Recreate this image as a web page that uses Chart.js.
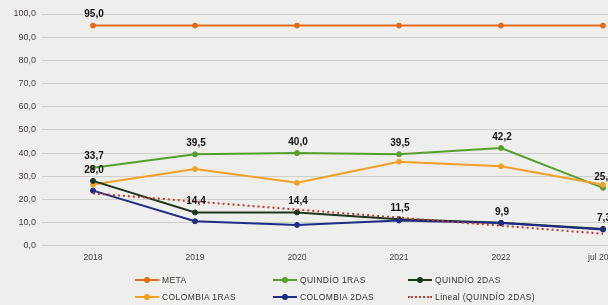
<!DOCTYPE html>
<html>
<head>
<meta charset="utf-8">
<script src="https://cdn.jsdelivr.net/npm/chart.js@4.4.0/dist/chart.umd.min.js"></script>
<style>
  html, body { margin: 0; padding: 0; background: #eeeeec; overflow: hidden; width: 608px; height: 305px; }
  #wrap { position: absolute; left: 0; top: 0; width: 660px; height: 278px; }
  #leyenda { position: absolute; left: 0; top: 270px; width: 608px; height: 35px; font-family: "Liberation Sans", Arial, sans-serif; font-size: 8.5px; letter-spacing: 0.4px; color: #333; }
  .item { position: absolute; display: flex; align-items: center; white-space: nowrap; }
  .marca { position: relative; width: 24px; height: 8px; margin-right: 3px; }
  .marca .linea { position: absolute; left: 0; right: 0; top: 3px; height: 2px; }
  .marca .punto { position: absolute; left: 9px; top: 1px; width: 6px; height: 6px; border-radius: 50%; }
</style>
</head>
<body>
<div id="wrap"><canvas id="myChart" width="660" height="278"></canvas></div>
<div id="leyenda"></div>
<script>
// datos
const categorias = ["2018", "2019", "2020", "2021", "2022", "jul 2023"];
const meta = [95.0, 95.0, 95.0, 95.0, 95.0, 95.0];
const quindio1 = [33.7, 39.5, 40.0, 39.5, 42.2, 25.0];
const quindio2 = [28.0, 14.4, 14.4, 11.5, 9.9, 7.3];
const colombia1 = [26.4, 33.1, 27.2, 36.3, 34.3, 26.3];
const colombia2 = [23.8, 10.6, 9.0, 10.9, 9.8, 7.0];
const lineal = [22.6, null, null, null, null, 5.2];
const ticksY = [0, 10, 20, 30, 40, 50, 60, 70, 80, 90, 100];

// que puntos llevan etiqueta
const etiquetasMeta = [true, false, false, false, false, false];
const etiquetasQ1 = [true, true, true, true, true, true];
const etiquetasQ2 = [true, true, true, true, true, true];

const fmt = (v) => v.toFixed(1).replace(".", ",");

const etiquetasPlugin = {
  id: "etiquetas",
  afterDatasetsDraw(chart) {
    const ctx = chart.ctx;
    ctx.save();
    ctx.font = "bold 10px 'Liberation Sans', Arial, sans-serif";
    ctx.fillStyle = "#111";
    ctx.textAlign = "center";
    ctx.textBaseline = "bottom";
    chart.data.datasets.forEach((ds, i) => {
      if (!ds.etiquetas) return;
      const meta = chart.getDatasetMeta(i);
      meta.data.forEach((p, j) => {
        if (ds.etiquetas[j] && ds.data[j] != null) {
          ctx.fillText(fmt(ds.data[j]), p.x + 1, p.y - 6);
        }
      });
    });
    ctx.restore();
  }
};

const datasets = [
  { label: "META", data: meta, borderColor: "#e36c1c", backgroundColor: "#e36c1c", etiquetas: etiquetasMeta, order: 6 },
  { label: "QUINDÍO 1RAS", data: quindio1, borderColor: "#55a02c", backgroundColor: "#55a02c", etiquetas: etiquetasQ1, order: 5 },
  { label: "QUINDÍO 2DAS", data: quindio2, borderColor: "#1c361c", backgroundColor: "#1c361c", etiquetas: etiquetasQ2, order: 3 },
  { label: "COLOMBIA 1RAS", data: colombia1, borderColor: "#f2a126", backgroundColor: "#f2a126", order: 4 },
  { label: "COLOMBIA 2DAS", data: colombia2, borderColor: "#1f2c86", backgroundColor: "#1f2c86", order: 2 },
  { label: "Lineal (QUINDÍO 2DAS)", data: lineal, borderColor: "#c0392b", borderDash: [2, 3], pointRadius: 0, spanGaps: true, order: 1, dotted: true }
];
datasets.forEach((d) => {
  d.borderWidth = 2;
  if (d.pointRadius === undefined) d.pointRadius = 2.5;
  d.pointBorderWidth = 1;
  d.tension = 0;
});

const myChart = document.getElementById("myChart");
const chart = new Chart(myChart, {
  type: "line",
  data: { labels: categorias, datasets },
  options: {
    responsive: false,
    animation: false,
    layout: { padding: { top: 14, right: 6, left: 0, bottom: 8 } },
    plugins: { legend: { display: false }, tooltip: { enabled: false } },
    scales: {
      x: {
        offset: true,
        grid: { display: false, drawTicks: false },
        border: { display: false },
        ticks: { color: "#444", padding: 7, font: { family: "'Liberation Sans', Arial, sans-serif", size: 8.5 }, maxRotation: 0, autoSkip: false }
      },
      y: {
        min: 0, max: 100,
        afterBuildTicks: (s) => { s.ticks = ticksY.map((v) => ({ value: v })); },
        afterFit: (s) => { s.width = 42; },
        grid: { color: "rgba(0,0,0,0.13)", drawTicks: false },
        border: { display: false },
        ticks: { color: "#4a4040", padding: 6, font: { family: "'Liberation Sans', Arial, sans-serif", size: 9 }, callback: (v) => fmt(v) }
      }
    }
  },
  plugins: [etiquetasPlugin]
});

// leyenda en html, en rejilla de 3 columnas
const leyenda = document.getElementById("leyenda");
const posiciones = [[135, 9], [273, 9], [408, 9], [135, 26], [273, 26], [408, 26]];
chart.data.datasets.forEach((ds, k) => {
  const item = document.createElement("div");
  item.className = "item";
  item.style.left = posiciones[k][0] + "px";
  item.style.top = (posiciones[k][1] - 4) + "px";
  const lineaCss = ds.dotted
    ? `border-top: 2px dotted ${ds.borderColor}; height: 0;`
    : `background: ${ds.borderColor};`;
  const punto = ds.dotted ? "" : `<div class="punto" style="background:${ds.borderColor}"></div>`;
  item.innerHTML = `<div class="marca"><div class="linea" style="${lineaCss}"></div>${punto}</div><span>${ds.label}</span>`;
  leyenda.appendChild(item);
});
</script>
</body>
</html>
